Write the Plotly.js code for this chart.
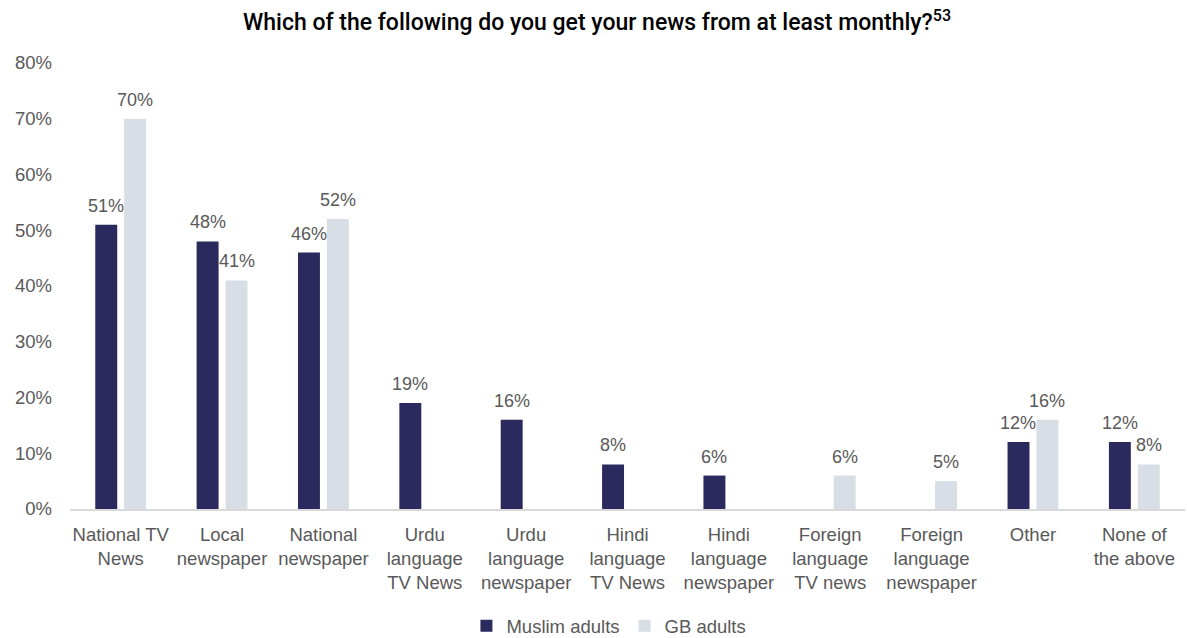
<!DOCTYPE html>
<html>
<head>
<meta charset="utf-8">
<script src="https://cdn.plot.ly/plotly-3.0.1.min.js"></script>
<style>html,body{margin:0;padding:0;background:#fff;}#chart{width:1187px;height:638px;}</style>
</head>
<body>
<div id="chart"></div>
<script>
const categories = [
  "National TV<br>News",
  "Local<br>newspaper",
  "National<br>newspaper",
  "Urdu<br>language<br>TV News",
  "Urdu<br>language<br>newspaper",
  "Hindi<br>language<br>TV News",
  "Hindi<br>language<br>newspaper",
  "Foreign<br>language<br>TV news",
  "Foreign<br>language<br>newspaper",
  "Other",
  "None of<br>the above"
];
const muslimAdults = [0.51, 0.48, 0.46, 0.19, 0.16, 0.08, 0.06, null, null, 0.12, 0.12];
const gbAdults = [0.70, 0.41, 0.52, null, null, null, null, 0.06, 0.05, 0.16, 0.08];
const yTickValues = [0, 0.1, 0.2, 0.3, 0.4, 0.5, 0.6, 0.7, 0.8];

const labelFont = {family: "Liberation Sans, Arial, sans-serif", size: 18, color: "#595959"};
const tickFont = {family: "Liberation Sans, Arial, sans-serif", size: 18.5, color: "#595959"};

const traces = [
  {type: "bar", name: "Muslim adults", x: categories, y: muslimAdults,
   marker: {color: "#2b2a5e"}, hoverinfo: "x+y"},
  {type: "bar", name: "GB adults", x: categories, y: gbAdults,
   marker: {color: "#d7dee6"}, hoverinfo: "x+y"}
];

// data labels placed above each bar, derived from the series arrays
const annotations = [];
function addLabels(arr, shift){
  arr.forEach((v, i) => {
    if (v === null) return;
    annotations.push({x: categories[i], y: v, xref: "x", yref: "y",
      text: Math.round(v*100) + "%", showarrow: false, xanchor: "center", yanchor: "bottom",
      xshift: shift, yshift: 7, font: labelFont});
  });
}
addLabels(muslimAdults, -14.5);
addLabels(gbAdults, 14.5);

const layout = {
  width: 1187, height: 638,
  margin: {l: 70, r: 2, t: 63, b: 129, autoexpand: false},
  paper_bgcolor: "#fff", plot_bgcolor: "#fff",
  title: {text: "Which of the following do you get your news from at least monthly?<sup>53</sup>",
          x: 0.503, xanchor: "center", y: 0.965, yanchor: "middle",
          font: {family: "Roboto, sans-serif", size: 23, color: "#000", weight: 500}},
  barmode: "group", bargap: 0.43, bargroupgap: 0.24,
  annotations: annotations,
  xaxis: {type: "category", showline: true, linecolor: "#d9d9d9", linewidth: 2,
          ticks: "", tickfont: tickFont, showgrid: false, zeroline: false, automargin: false,
          ticklabelstandoff: 8},
  yaxis: {range: [0, 0.8], tickvals: yTickValues, tickformat: ".0%", showgrid: false,
          zeroline: false, showline: false, ticks: "", ticklabelstandoff: 17,
          tickfont: tickFont, automargin: false},
  legend: {orientation: "h", x: 0.513, xanchor: "center", xref: "container",
           y: -0.22, yanchor: "top", yref: "paper",
           font: tickFont, traceorder: "normal"},
  showlegend: true
};

Plotly.newPlot("chart", traces, layout, {displayModeBar: false, staticPlot: true});
</script>
</body>
</html>
